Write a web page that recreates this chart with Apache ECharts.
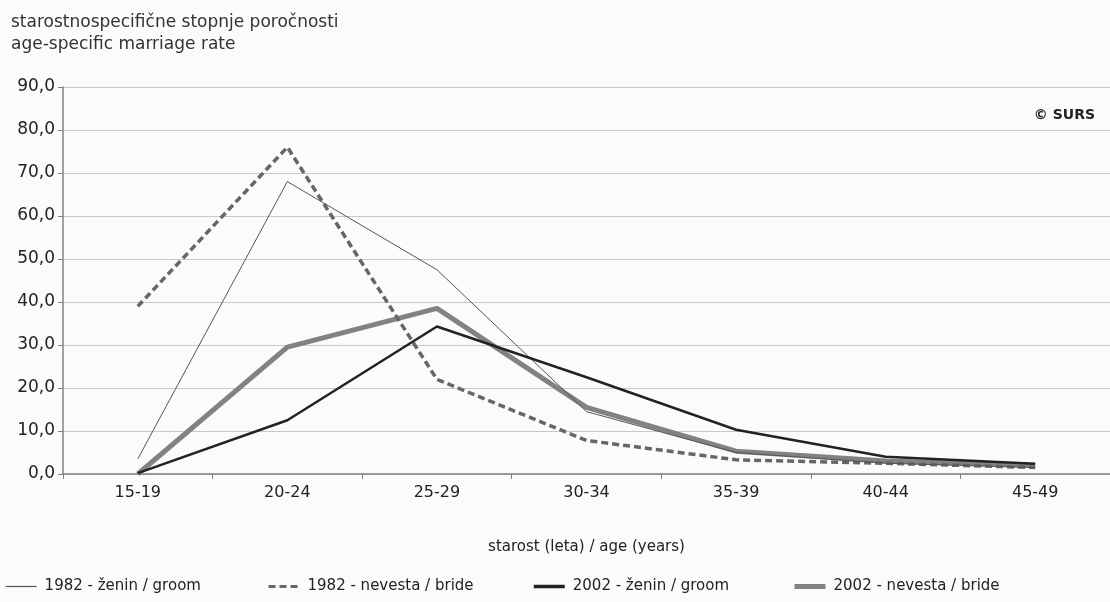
<!DOCTYPE html>
<html>
<head>
<meta charset="utf-8">
<script src="https://cdn.jsdelivr.net/npm/echarts@6/dist/echarts.min.js"></script>
<style>
  html, body { margin: 0; padding: 0; background: #fbfbfc; }
  #chart { width: 1110px; height: 602px; }
</style>
</head>
<body>
<div id="chart"></div>
<script>
// starostne skupine
var ageGroups = ["15-19", "20-24", "25-29", "30-34", "35-39", "40-44", "45-49"];
var groom1982 = [3.5, 68.0, 47.5, 14.5, 5.0, 2.5, 1.5];
var bride1982 = [39.0, 76.0, 22.0, 7.8, 3.3, 2.5, 1.5];
var groom2002 = [0.2, 12.5, 34.3, 22.5, 10.3, 4.0, 2.4];
var bride2002 = [0.0, 29.5, 38.5, 15.5, 5.3, 3.0, 2.0];
var seriesNames = ["1982 - ženin / groom", "1982 - nevesta / bride", "2002 - ženin / groom", "2002 - nevesta / bride"];

var font = "DejaVu Sans";
var legendLeft = [0, 262, 527, 787];
var legendLineWidth = [1.2, 3, 3.5, 5];

// ena legenda na vsak niz, da so postavljene kot v originalu
var legends = seriesNames.map(function (name, i) {
  return {
    left: legendLeft[i],
    bottom: 3,
    itemWidth: 31,
    itemHeight: 10,
    itemStyle: { opacity: 0 },
    lineStyle: { width: legendLineWidth[i] },
    textStyle: { fontSize: 15, color: "#222", fontFamily: font, padding: [0, 0, 0, 3] },
    data: [name]
  };
});

var myChart = echarts.init(document.getElementById("chart"));
myChart.setOption({
  backgroundColor: "#fbfbfc",
  textStyle: { fontFamily: font },
  title: [
    {
      text: "starostnospecifične stopnje poročnosti\nage-specific marriage rate",
      left: 6,
      top: 7,
      textStyle: { fontSize: 17, fontWeight: "normal", color: "#333", lineHeight: 22, fontFamily: font }
    },
    {
      text: "© SURS",
      right: 10,
      top: 103,
      textStyle: { fontSize: 14, fontWeight: "bold", color: "#222", fontFamily: font }
    }
  ],
  legend: legends,
  grid: {
    left: 63,
    right: -9,
    top: 87,
    bottom: 128
  },
  xAxis: {
    type: "category",
    data: ageGroups,
    name: "starost (leta) / age (years)",
    nameLocation: "middle",
    nameGap: 66,
    nameTextStyle: { fontSize: 15, color: "#222" },
    axisLine: { lineStyle: { color: "#8a7c88", width: 1.5 } },
    axisTick: { show: true, length: 5, lineStyle: { color: "#8a7c88" } },
    axisLabel: { fontSize: 16, color: "#222", margin: 11 }
  },
  yAxis: {
    type: "value",
    min: 0,
    max: 90,
    interval: 10,
    axisLine: { show: true, lineStyle: { color: "#8a7c88", width: 1.5 } },
    axisTick: { show: true, length: 5, lineStyle: { color: "#8a7c88" } },
    axisLabel: {
      fontSize: 17,
      color: "#222",
      margin: 8,
      formatter: function (v) { return v.toFixed(1).replace(".", ","); }
    },
    splitLine: { lineStyle: { color: "#cfc4cc", width: 1.2 } }
  },
  series: [
    {
      name: seriesNames[0],
      type: "line",
      data: groom1982,
      symbol: "none",
      lineStyle: { color: "#555", width: 1 },
      itemStyle: { color: "#555" },
      z: 4
    },
    {
      name: seriesNames[1],
      type: "line",
      data: bride1982,
      symbol: "none",
      lineStyle: { color: "#666", width: 3.5, type: [7, 4] },
      itemStyle: { color: "#666" },
      z: 3
    },
    {
      name: seriesNames[2],
      type: "line",
      data: groom2002,
      symbol: "none",
      lineStyle: { color: "#222", width: 2.5 },
      itemStyle: { color: "#222" },
      z: 5
    },
    {
      name: seriesNames[3],
      type: "line",
      data: bride2002,
      symbol: "none",
      lineStyle: { color: "#828282", width: 5 },
      itemStyle: { color: "#828282" },
      z: 2
    }
  ]
});
</script>
</body>
</html>
